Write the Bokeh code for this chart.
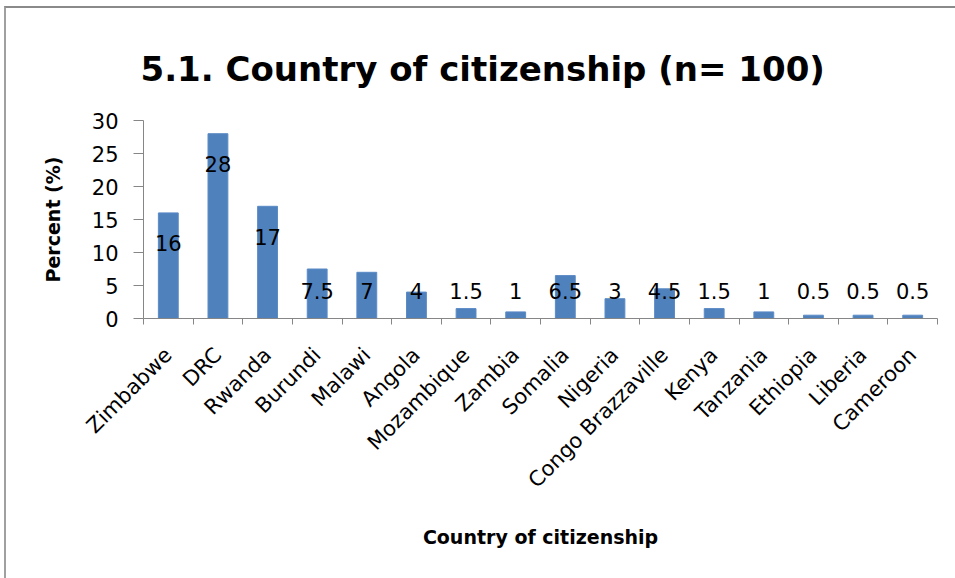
import math
from bokeh.plotting import figure
from bokeh.layouts import column
from bokeh.models import ColumnDataSource, FixedTicker, Title, Range1d
from bokeh.core.properties import value
from bokeh.embed import file_html
from bokeh.resources import INLINE

countries = ["Zimbabwe", "DRC", "Rwanda", "Burundi", "Malawi", "Angola", "Mozambique",
             "Zambia", "Somalia", "Nigeria", "Congo Brazzaville", "Kenya", "Tanzania",
             "Ethiopia", "Liberia", "Cameroon"]
percent = [16, 28, 17, 7.5, 7, 4, 1.5, 1, 6.5, 3, 4.5, 1.5, 1, 0.5, 0.5, 0.5]
percent_labels = ["16", "28", "17", "7.5", "7", "4", "1.5", "1", "6.5", "3", "4.5",
                  "1.5", "1", "0.5", "0.5", "0.5"]
y_ticks = [0, 5, 10, 15, 20, 25, 30]

FONT = "DejaVu Sans"
n = len(countries)
centers = [i + 0.5 for i in range(n)]
label_y = [max(v - 4.6, 4.2) for v in percent]

src = ColumnDataSource(dict(x=centers, top=percent, label=percent_labels, ly=label_y))

p = figure(width=949, height=570, x_range=Range1d(0, n), y_range=Range1d(0, 30),
           output_backend="svg", toolbar_location=None,
           min_border_left=137, min_border_right=18, min_border_top=112, min_border_bottom=260)
p.outline_line_color = None
p.xgrid.grid_line_color = None
p.ygrid.grid_line_color = None

p.vbar(x="x", top="top", width=0.4, source=src, fill_color="#4F81BD", line_color="#5B8BC6")
p.text(x="x", y="ly", text="label", source=src, text_align="center", text_baseline="middle",
       text_font=value(FONT), text_font_size="21px", text_color="#000000")

title = Title(text="5.1. Country of citizenship (n= 100)", align="left", offset=-3,
              text_font=FONT, text_font_size="34px", text_font_style="bold",
              text_color="#000000", standoff=63)
p.add_layout(title, "above")

xa = p.xaxis[0]
xa.ticker = FixedTicker(ticks=centers, minor_ticks=list(range(n + 1)))
xa.major_label_overrides = {c: name for c, name in zip(centers, countries)}
xa.major_label_orientation = math.pi / 4
xa.major_tick_out = 0
xa.major_tick_in = 0
xa.minor_tick_out = 6
xa.minor_tick_in = 0
xa.minor_tick_line_color = "#868686"
xa.axis_line_color = "#868686"
xa.major_label_text_font = FONT
xa.major_label_text_font_size = "21px"
xa.major_label_text_color = "#000000"
xa.major_label_standoff = 27
xa.axis_label = "Country of citizenship"
xa.axis_label_text_font = FONT
xa.axis_label_text_font_size = "19px"
xa.axis_label_text_font_style = "bold"
xa.axis_label_text_color = "#000000"
xa.axis_label_standoff = 22

ya = p.yaxis[0]
ya.ticker = FixedTicker(ticks=y_ticks, minor_ticks=[])
ya.major_tick_out = 10
ya.major_tick_in = 0
ya.major_tick_line_color = "#868686"
ya.axis_line_color = "#868686"
ya.major_label_text_font = FONT
ya.major_label_text_font_size = "21px"
ya.major_label_text_color = "#000000"
ya.major_label_standoff = 15
ya.axis_label = "Percent (%)"
ya.axis_label_text_font = FONT
ya.axis_label_text_font_size = "19px"
ya.axis_label_text_font_style = "bold"
ya.axis_label_text_color = "#000000"
ya.axis_label_standoff = 25

root = column(p, styles={"margin-left": "4px", "margin-top": "6px",
                         "box-sizing": "content-box",
                         "border-top": "2px solid #8a8a8a",
                         "border-left": "2px solid #a0a0a0",
                         "border-right": "0px none",
                         "border-bottom": "0px none"})

open("out.html", "w").write(file_html(root, INLINE))
